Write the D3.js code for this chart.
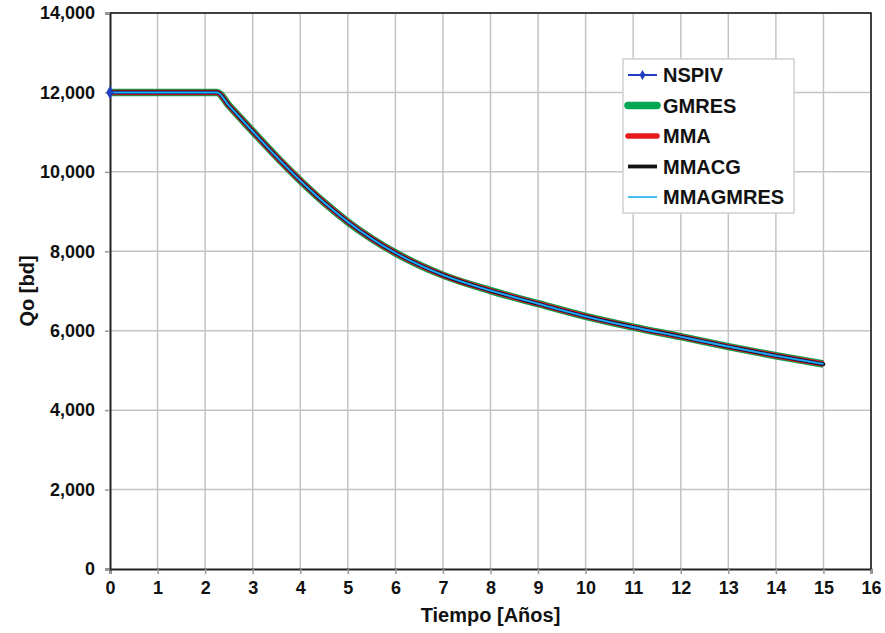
<!DOCTYPE html>
<html>
<head>
<meta charset="utf-8">
<script src="https://cdn.jsdelivr.net/npm/d3@7"></script>
<style>
  body { margin: 0; background: #fff; }
  text { font-family: "Liberation Sans", Arial, sans-serif; font-weight: bold; fill: #111; }
</style>
</head>
<body>
<script>
// data (all five solvers give the same curve)
var years = [0, 0.5, 1, 1.5, 2, 2.25, 2.5, 3, 3.5, 4, 4.5, 5, 5.5, 6, 7, 8, 9, 10, 11, 12, 13, 14, 15];
var qo    = [12000, 12000, 12000, 12000, 12000, 12000, 11670, 11020, 10380, 9780, 9230, 8740, 8320, 7960, 7400, 7010, 6680, 6360, 6090, 5850, 5600, 5370, 5160];
var seriesNames = ["NSPIV", "GMRES", "MMA", "MMACG", "MMAGMRES"];
var xTicks = d3.range(0, 17, 1);
var yTicks = d3.range(0, 14001, 2000);

var margin = {top: 13, right: 14, bottom: 64, left: 110},
    width = 885 - margin.left - margin.right,
    height = 633 - margin.top - margin.bottom;

var x = d3.scaleLinear().domain([0, 16]).range([0, width]);
var y = d3.scaleLinear().domain([0, 14000]).range([height, 0]);

var svg = d3.select("body").append("svg")
    .attr("width", 885)
    .attr("height", 633)
  .append("g")
    .attr("transform", "translate(" + margin.left + "," + margin.top + ")");

// grid
svg.selectAll(".vgrid").data(xTicks.slice(1)).enter().append("line")
    .attr("x1", d => x(d)).attr("x2", d => x(d))
    .attr("y1", 0).attr("y2", height)
    .attr("stroke", "#c4c4c4").attr("stroke-width", 1.5);
svg.selectAll(".hgrid").data(yTicks.slice(1)).enter().append("line")
    .attr("x1", 0).attr("x2", width)
    .attr("y1", d => y(d)).attr("y2", d => y(d))
    .attr("stroke", "#c4c4c4").attr("stroke-width", 1.5);

// frame top + right
svg.append("path")
    .attr("d", "M0,0H" + width + "V" + height)
    .attr("fill", "none").attr("stroke", "#111").attr("stroke-width", 1.5);

// axes
var xAxis = svg.append("g")
    .attr("transform", "translate(0," + height + ")")
    .call(d3.axisBottom(x).tickValues(xTicks).tickFormat(d3.format("d")).tickSize(5).tickPadding(7));
var yAxis = svg.append("g")
    .call(d3.axisLeft(y).tickValues(yTicks).tickFormat(d3.format(",")).tickSize(5).tickPadding(10));
[xAxis, yAxis].forEach(function(a) {
  a.select(".domain").attr("stroke", "#222").attr("stroke-width", 2);
  a.selectAll(".tick line").attr("stroke", "#999").attr("stroke-width", 1.5);
  a.selectAll("text").style("font-size", "18px").style("font-weight", "bold").attr("fill", "#111");
});

svg.append("text")
    .attr("x", x(8)).attr("y", height + 53)
    .attr("text-anchor", "middle")
    .style("font-size", "20px")
    .text("Tiempo [Años]");
svg.append("text")
    .attr("transform", "translate(" + (-76) + "," + (height / 2) + ") rotate(-90)")
    .attr("text-anchor", "middle")
    .style("font-size", "20px")
    .text("Qo [bd]");

var pts = years.map((t, i) => [t, qo[i]]);
var line = d3.line().x(d => x(d[0])).y(d => y(d[1])).curve(d3.curveMonotoneX);

// drawing order: wide to narrow so all stay visible
var styles = {
  GMRES:    {color: "#00a651", w: 7.5},
  MMA:      {color: "#e41a1c", w: 5.5},
  MMACG:    {color: "#111111", w: 3.8},
  NSPIV:    {color: "#1f3fbf", w: 2.6},
  MMAGMRES: {color: "#1ab2e8", w: 1.6}
};
["GMRES", "MMA", "MMACG", "NSPIV", "MMAGMRES"].forEach(function(s) {
  svg.append("path")
      .datum(pts)
      .attr("fill", "none")
      .attr("stroke", styles[s].color)
      .attr("stroke-width", styles[s].w)
      .attr("stroke-linecap", s == "MMACG" ? "round" : "butt")
      .attr("d", line);
});
// NSPIV marker at start point
svg.append("path")
    .attr("d", d3.symbol().type(d3.symbolDiamond).size(50))
    .attr("transform", "translate(" + x(pts[0][0]) + "," + y(pts[0][1]) + ")")
    .attr("fill", "#1f3fbf");

// legend
var lg = svg.append("g").attr("transform", "translate(" + (623 - margin.left) + "," + (59 - margin.top) + ")");
lg.append("rect")
    .attr("width", 171).attr("height", 154)
    .attr("fill", "#fff").attr("stroke", "#d0d0d0").attr("stroke-width", 1.5);
seriesNames.forEach(function(s, i) {
  var yy = 16 + i * 30.5;
  var w = s == "NSPIV" ? 2 : styles[s].w;
  lg.append("line")
      .attr("x1", 5).attr("x2", 34).attr("y1", yy).attr("y2", yy)
      .attr("stroke", styles[s].color).attr("stroke-width", w)
      .attr("stroke-linecap", (s == "GMRES" || s == "MMA") ? "round" : "butt");
  if (s == "NSPIV") {
    lg.append("path")
        .attr("d", d3.symbol().type(d3.symbolDiamond).size(30))
        .attr("transform", "translate(19.5," + yy + ")")
        .attr("fill", styles[s].color);
  }
  lg.append("text")
      .attr("x", 40).attr("y", yy + 7)
      .style("font-size", "20px")
      .text(s);
});
</script>
</body>
</html>
